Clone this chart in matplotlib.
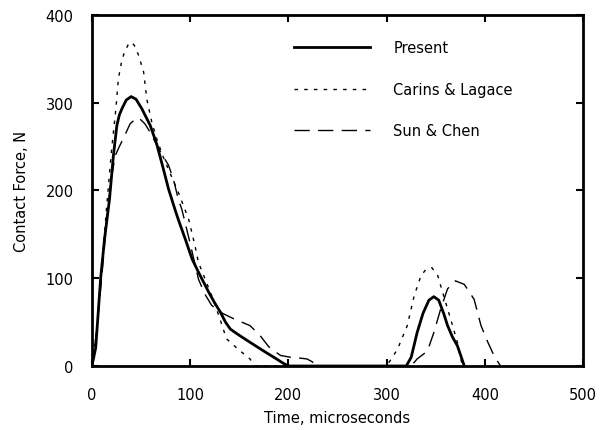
import numpy as np
import matplotlib.pyplot as plt

plt.rcParams['font.family'] = ['DejaVu Sans']

# Present (solid)
present_t = [0, 2, 4, 9, 13, 18, 22, 25.5, 28, 30.6, 35, 40, 45, 51, 59.5, 66, 72, 78, 85, 88,
             95, 102, 108.5, 114, 119, 125, 131, 136, 141, 150, 161, 175, 188, 195, 200,
             320, 325, 331, 337, 343, 348, 353, 358, 362, 367, 372, 376, 379]
present_f = [0, 10, 21, 100, 145, 190, 240, 274, 286, 293, 303, 307, 304, 293, 274, 253, 228,
             202, 177, 167, 145, 122, 107, 95, 84, 72, 61, 50, 42, 35, 27, 17, 8, 3, 0,
             0, 10, 38, 60, 75, 79, 75, 60, 46, 33, 23, 10, 0]

# Carins & Lagace (dotted)
carins_t = [0, 5, 10, 15, 20, 24.5, 27, 30, 33, 37, 40.8, 44, 47.6, 52.7, 56, 61, 66, 72, 78,
            88, 98.6, 105, 108.5, 115, 122, 130, 137, 149, 161, 166,
            300, 311, 321, 328, 335, 340, 346, 352, 358, 365, 372, 377]
carins_f = [0, 40, 110, 180, 245, 293, 327, 345, 357, 366, 369, 364, 354, 335, 304, 278, 259,
            240, 224, 198, 167, 137, 118, 100, 80, 55, 31, 19, 8, 0,
            0, 19, 46, 80, 103, 110, 112, 103, 80, 54, 27, 0]

# Sun & Chen (dashed)
sun_t = [0, 5, 10, 15, 20, 24, 28, 32, 39, 44, 47.6, 54, 59, 66, 72, 78, 83, 88, 91.5, 100,
         108.5, 115, 122, 133, 144, 161, 171, 180, 192, 202, 212, 219, 224, 229,
         325, 331, 341.5, 348, 355, 362, 370, 379, 389, 396, 403, 410, 416]
sun_f = [0, 40, 100, 165, 215, 240, 250, 259, 276, 281, 283, 276, 267, 252, 240, 229, 213, 190,
         179, 140, 99, 82, 69, 60, 54, 46, 35, 22, 12, 10, 9, 8, 5, 0,
         0, 8, 17, 38, 65, 88, 97, 93, 76, 46, 27, 10, 0]

fig = plt.figure(figsize=(6, 4.31), dpi=100)
ax = fig.add_axes([0.153, 0.1485, 0.819, 0.8145])

ax.plot(present_t, present_f, color='black', lw=2.0, label='Present')
ax.plot(carins_t, carins_f, color='black', lw=1.0, dashes=(2.5, 4.5), label='Carins & Lagace')
ax.plot(sun_t, sun_f, color='black', lw=1.0, dashes=(11, 6), label='Sun & Chen')

ax.set_xlim(0, 500)
ax.set_ylim(0, 400)
ax.set_xticks(np.arange(0, 501, 100))
ax.set_yticks(np.arange(0, 401, 100))

fs = 10.5
for s in ax.spines.values():
    s.set_linewidth(2.0)
ax.tick_params(direction='in', length=5, width=1.5, top=True, right=True, labelsize=fs)
ax.tick_params(axis='x', pad=15)
ax.tick_params(axis='y', pad=13)

ax.set_xlabel('Time, microseconds', fontsize=fs, labelpad=6)
ax.set_ylabel('Contact Force, N', fontsize=fs, labelpad=12)

leg = ax.legend(loc='upper left', bbox_to_anchor=(0.385, 0.965), frameon=False,
                fontsize=fs, handlelength=5.2, handletextpad=1.6, labelspacing=1.8)

fig.savefig('out.png', dpi=100)
